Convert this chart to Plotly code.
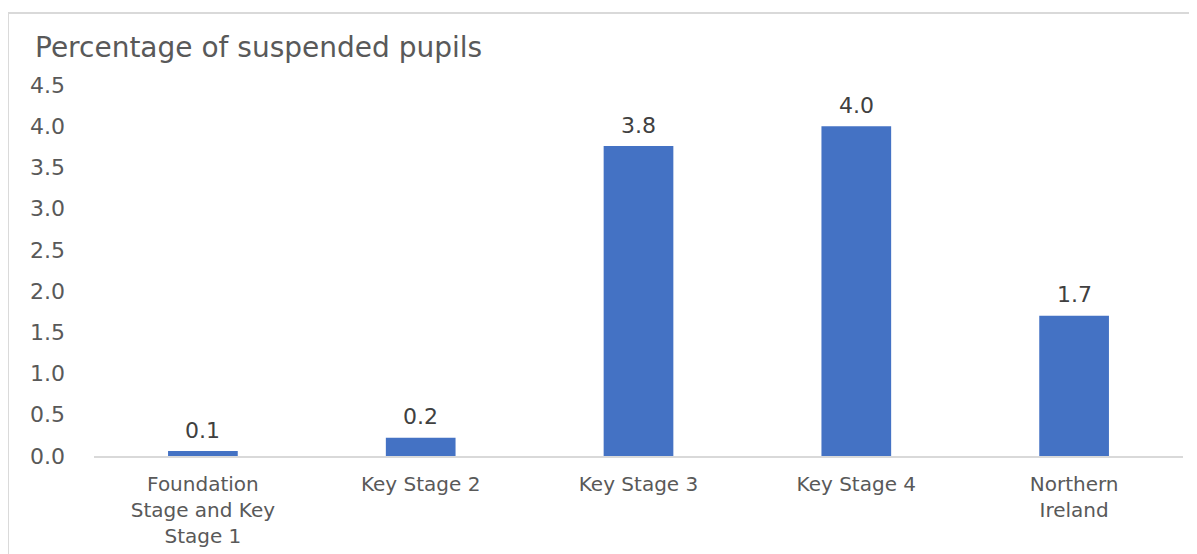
import plotly.graph_objects as go

categories = [
    "Foundation<br>Stage and Key<br>Stage 1",
    "Key Stage 2",
    "Key Stage 3",
    "Key Stage 4",
    "Northern<br>Ireland",
]
suspended_pct = [0.06, 0.22, 3.76, 4.0, 1.7]
y_ticks = [0.0, 0.5, 1.0, 1.5, 2.0, 2.5, 3.0, 3.5, 4.0, 4.5]

FONT = "DejaVu Sans, Arial, sans-serif"
GREY = "#595959"
BORDER = "#D9D9D9"

fig = go.Figure(go.Bar(
    x=categories, y=suspended_pct,
    marker=dict(color="#4472C4", line=dict(width=0)),
    hoverinfo="x+y",
))

for cat, val in zip(categories, suspended_pct):
    fig.add_annotation(x=cat, y=val, text=f"{val:.1f}", showarrow=False,
                       yanchor="middle", yshift=21,
                       font=dict(family=FONT, size=22, color="#404040"))

fig.add_annotation(xref="paper", yref="paper", x=-0.056, y=1.1,
                   xanchor="left", yanchor="middle", showarrow=False,
                   text="Percentage of suspended pupils",
                   font=dict(family=FONT, size=28, color=GREY))

# outer frame: only the top and left edges are visible in the source
fig.add_shape(type="line", xref="paper", yref="paper",
              x0=-0.079, x1=1.012, y0=1.194, y1=1.194,
              line=dict(color=BORDER, width=2))
fig.add_shape(type="line", xref="paper", yref="paper",
              x0=-0.079, x1=-0.079, y0=1.194, y1=-0.3,
              line=dict(color=BORDER, width=2))

fig.update_layout(
    width=1189, height=546,
    margin=dict(l=86, r=14, t=77, b=98),
    paper_bgcolor="white", plot_bgcolor="white",
    bargap=0.68, showlegend=False,
    font=dict(family=FONT, size=22, color=GREY),
)
fig.update_xaxes(showline=True, linecolor=BORDER, linewidth=2,
                 showgrid=False, ticks="", ticklabelstandoff=9,
                 automargin=False, tickfont=dict(size=20, color=GREY))
fig.update_yaxes(range=[0, 4.5], tickvals=y_ticks, tickformat=".1f",
                 showgrid=False, zeroline=False, showline=False,
                 automargin=False, ticklabelstandoff=28,
                 tickfont=dict(size=22, color=GREY))

fig.write_html("out.html")
